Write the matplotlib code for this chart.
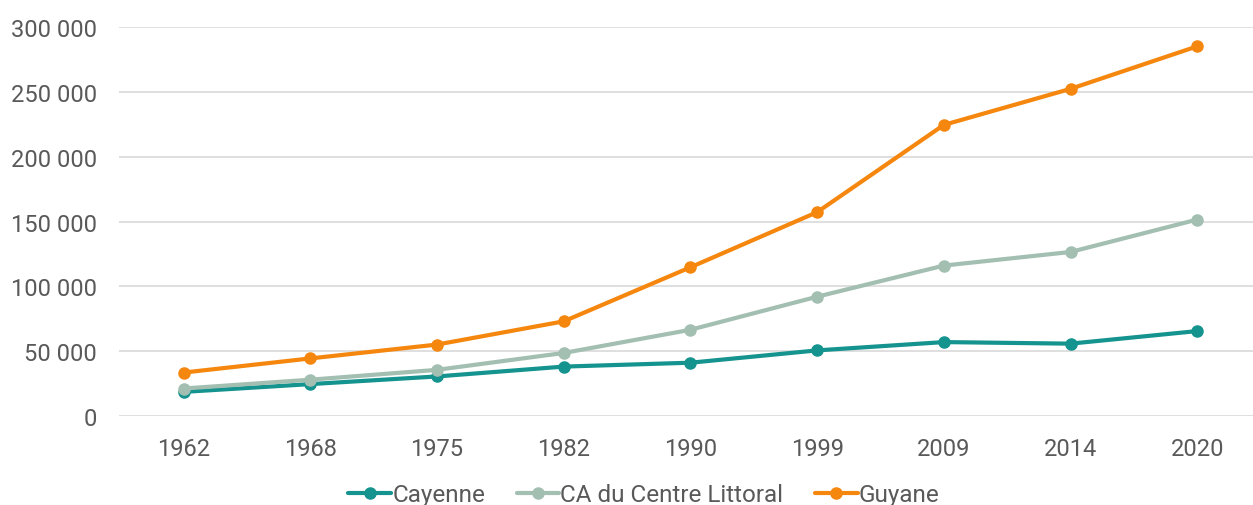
import matplotlib.pyplot as plt
from matplotlib.ticker import FuncFormatter

plt.rcParams['font.family'] = ['Roboto', 'DejaVu Sans']

years = ['1962', '1968', '1975', '1982', '1990', '1999', '2009', '2014', '2020']
cayenne = [18600, 24600, 30500, 38100, 41100, 50600, 57000, 55800, 65500]
centre_littoral = [21200, 28000, 35600, 48600, 66500, 92000, 116000, 126500, 151500]
guyane = [33500, 44400, 55100, 73000, 114700, 157200, 224500, 252300, 285100]

series = [
    ('Cayenne', cayenne, '#14938f'),
    ('CA du Centre Littoral', centre_littoral, '#a3bfb1'),
    ('Guyane', guyane, '#f5870f'),
]

fig = plt.figure(figsize=(12.53, 5.06), dpi=100)
ax = fig.add_axes([119 / 1253, 1 - 417 / 506, 1 - 119 / 1253, (417 - 28) / 506])

x = range(len(years))
for name, vals, col in series:
    ax.plot(x, vals, color=col, lw=3, marker='o', ms=8, label=name,
            solid_capstyle='round')

ax.set_ylim(0, 300000)
ax.set_xlim(-0.51, 8.44)
ax.set_yticks(range(0, 300001, 50000))
ax.yaxis.set_major_formatter(FuncFormatter(lambda v, p: f'{int(v):,}'.replace(',', ' ')))
ax.set_xticks(list(x))
ax.set_xticklabels(years)
ax.grid(axis='y', color='#d9d9d9', lw=1.2)
ax.set_axisbelow(True)
for s in ax.spines.values():
    s.set_visible(False)
ax.tick_params(length=0, labelsize=17, labelcolor='#595959')
ax.tick_params(axis='y', pad=16)
ax.tick_params(axis='x', pad=15)

ax.legend(loc='center', bbox_to_anchor=((644 - 119) / 1134, -(496 - 417) / 389), ncol=3,
          frameon=False, fontsize=17.5, labelcolor='#595959', handlelength=1.75,
          handletextpad=0.05, columnspacing=1.3, borderpad=0)

fig.savefig('out.png', dpi=100)
